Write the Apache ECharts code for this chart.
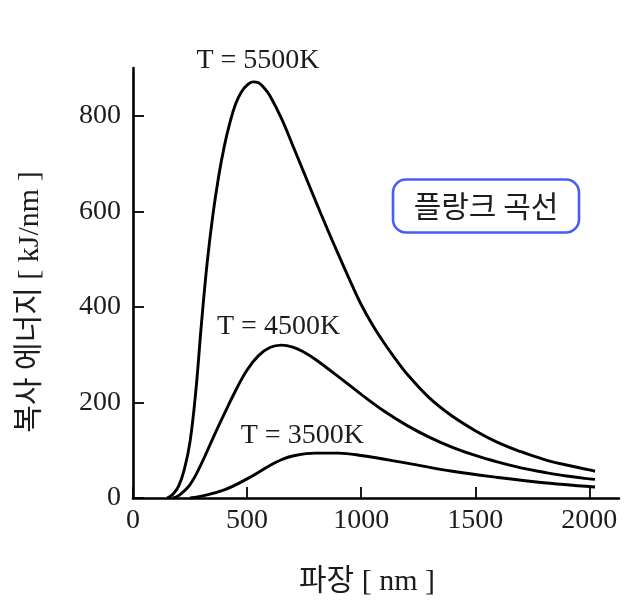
<!DOCTYPE html>
<html>
<head>
<meta charset="utf-8">
<script src="https://cdn.jsdelivr.net/npm/echarts@6/dist/echarts.min.js"></script>
<style>
html,body{margin:0;padding:0;background:#fff;}
#chart{width:624px;height:605px;}
</style>
</head>
<body>
<div id="chart"></div>
<script>
// Wavelength (nm) / energy (kJ/nm) pairs
const wl5500 = [150,175,200,225,250,275,300,325,350,375,400,425,450,475,500,525,550,575,600,650,700,750,800,850,900,950,1000,1050,1100,1150,1200,1300,1400,1500,1600,1700,1800,1900,2000,2025];
const e5500  = [0,8,25,60,118,222,365,492,592,672,736,786,825,850,864,871,869,858,842,795,738,680,622,565,510,456,405,362,325,291,260,209,171,141,116,97,81,69,59,56];

const wl4500 = [175,200,250,300,350,400,450,500,550,600,650,700,750,800,900,1000,1100,1200,1300,1400,1500,1600,1700,1800,1900,2000,2025];
const e4500  = [0,5,28,72,125,176,225,268,298,315,320,316,305,290,254,217,182,152,127,106,89,75,63,54,46,40,39];

const wl3500 = [250,300,400,500,600,650,700,800,900,1000,1200,1400,1600,1800,2000,2025];
const e3500  = [0,4,17,40,68,80,88,94,94,89,73,56,43,32,24,23];

const xTicks = [0,500,1000,1500,2000];
const yTicks = [0,200,400,600,800];

const curveLabels = ['T = 5500K','T = 4500K','T = 3500K'];
const curveLabelAt = [[548,915],[638,358],[742,130]];
const xTitle = '파장 [ nm ]';
const yTitle = '복사 에너지 [ kJ/nm ]';
const boxText = '플랑크 곡선';

const FONT = '"Liberation Serif", "Noto Sans CJK KR", serif';
const TXT = '#1c1c1c';
const FS = 28;
const TFS = 30;

function pairs(xs, ys){ return xs.map((x,i)=>[x, ys[i]]); }

const chart = echarts.init(document.getElementById('chart'), null, {renderer:'canvas'});

function mkSeries(name, xs, ys){
  return {
    name, type:'line', data: pairs(xs, ys), showSymbol:false, symbol:'none',
    smooth:0.4,
    lineStyle:{color:'#000', width:2.9}, clip:false, animation:false
  };
}

chart.setOption({
  animation:false,
  backgroundColor:'#fff',
  grid:{left:133, right:5, top:68, bottom:107, containLabel:false},
  xAxis:{
    type:'value', min:0, max:2130,
    axisLine:{show:true, lineStyle:{color:'#000', width:2.6}},
    axisTick:{show:true, inside:true, length:11, lineStyle:{color:'#000', width:1.8}, customValues: xTicks},
    axisLabel:{customValues: xTicks, formatter: v => String(v), fontFamily:FONT, fontSize:FS, color:TXT, margin:9},
    splitLine:{show:false}
  },
  yAxis:{
    type:'value', min:0, max:900,
    axisLine:{show:true, lineStyle:{color:'#000', width:2.6}},
    axisTick:{show:true, inside:true, length:11, lineStyle:{color:'#000', width:1.8}, customValues: yTicks},
    axisLabel:{customValues: yTicks, formatter: v => String(v), fontFamily:FONT, fontSize:FS, color:TXT, margin:12},
    splitLine:{show:false}
  },
  series:[
    mkSeries('5500K', wl5500, e5500),
    mkSeries('4500K', wl4500, e4500),
    mkSeries('3500K', wl3500, e3500)
  ]
});

const graphics = curveLabels.map((t,i)=>{
  const p = chart.convertToPixel({gridIndex:0}, curveLabelAt[i]);
  return {type:'text', x:p[0], y:p[1], style:{text:t, font:FS+'px '+FONT, fill:TXT, align:'center', verticalAlign:'middle'}};
});
graphics.push({type:'text', x:367, y:582, style:{text:xTitle, font:TFS+'px '+FONT, fill:TXT, align:'center', verticalAlign:'middle'}});
graphics.push({type:'text', x:30, y:302, rotation:Math.PI/2, style:{text:yTitle, font:TFS+'px '+FONT, fill:TXT, align:'center', verticalAlign:'middle'}});
graphics.push({
  type:'group', x:486, y:206,
  children:[
    {type:'rect', shape:{x:-93, y:-26.5, width:186, height:53, r:13}, style:{fill:'#fff', stroke:'#4a5cf7', lineWidth:2.6}},
    {type:'text', style:{text:boxText, font:TFS+'px "Noto Sans CJK KR", sans-serif', fill:TXT, align:'center', verticalAlign:'middle'}}
  ]
});
chart.setOption({graphic: graphics});
</script>
</body>
</html>
